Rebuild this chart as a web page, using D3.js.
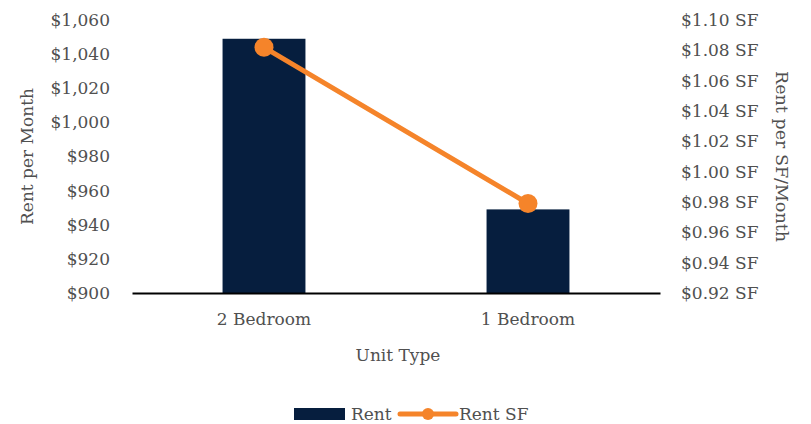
<!DOCTYPE html>
<html>
<head>
<meta charset="utf-8">
<script src="https://cdn.jsdelivr.net/npm/d3@7"></script>
<style>
  body { margin: 0; background: #fff; }
  text { font-family: "DejaVu Serif", serif; fill: #505050; }
</style>
</head>
<body>
<div id="chart"></div>
<script>
const categories = ['2 Bedroom', '1 Bedroom'];
const rentValues = [1049, 949];
const rentSfValues = [1.082, 0.979];
const leftTicks = [900, 920, 940, 960, 980, 1000, 1020, 1040, 1060];
const rightTicks = [0.92, 0.94, 0.96, 0.98, 1.00, 1.02, 1.04, 1.06, 1.08, 1.10];

const width = 811;
const height = 424;
const margin = { top: 20, right: 151, bottom: 131, left: 132 };
const plotW = width - margin.left - margin.right;
const plotH = height - margin.top - margin.bottom;

const navy = '#061e3e';
const orange = '#f5842a';
const textColor = '#505050';
const fontSize = 17;

const svg = d3.select('#chart').append('svg')
  .attr('width', width)
  .attr('height', height);

const g = svg.append('g')
  .attr('transform', `translate(${margin.left}, ${margin.top})`);

const x = d3.scaleBand()
  .domain(categories)
  .range([0, plotW])
  .paddingInner(0.686)
  .paddingOuter(0.343);

const yLeft = d3.scaleLinear().domain([900, 1060]).range([plotH, 0]);
const yRight = d3.scaleLinear().domain([0.92, 1.10]).range([plotH, 0]);

// left axis labels
const leftAxis = g.append('g')
  .call(d3.axisLeft(yLeft).tickValues(leftTicks).tickSize(0).tickPadding(22)
    .tickFormat(d => '$' + d3.format(',')(d)));
leftAxis.select('.domain').remove();
leftAxis.selectAll('text').style('font-size', fontSize + 'px').attr('fill', textColor);

// right axis labels
const rightAxis = g.append('g')
  .attr('transform', `translate(${plotW}, 0)`)
  .call(d3.axisRight(yRight).tickValues(rightTicks).tickSize(0).tickPadding(21)
    .tickFormat(d => '$' + d3.format('.2f')(d) + ' SF'));
rightAxis.select('.domain').remove();
rightAxis.selectAll('text').style('font-size', fontSize + 'px').attr('fill', textColor);

// bars
g.selectAll('.bar')
  .data(categories)
  .enter().append('rect')
  .attr('class', 'bar')
  .attr('x', d => x(d))
  .attr('width', x.bandwidth())
  .attr('y', (d, i) => yLeft(rentValues[i]))
  .attr('height', (d, i) => plotH - yLeft(rentValues[i]))
  .attr('fill', navy);

// x axis
const xAxis = g.append('g')
  .attr('transform', `translate(0, ${plotH})`)
  .call(d3.axisBottom(x).tickSize(0).tickPadding(20));
xAxis.select('.domain').attr('stroke', '#000').attr('stroke-width', 2);
xAxis.selectAll('text').style('font-size', fontSize + 'px').attr('fill', textColor);

// line
const line = d3.line()
  .x((d, i) => x(categories[i]) + x.bandwidth() / 2)
  .y(d => yRight(d));

g.append('path')
  .datum(rentSfValues)
  .attr('d', line)
  .attr('fill', 'none')
  .attr('stroke', orange)
  .attr('stroke-width', 5)
  .attr('stroke-linecap', 'round');

g.selectAll('.dot')
  .data(rentSfValues)
  .enter().append('circle')
  .attr('cx', (d, i) => x(categories[i]) + x.bandwidth() / 2)
  .attr('cy', d => yRight(d))
  .attr('r', 9.5)
  .attr('fill', orange);

// axis titles
svg.append('text')
  .attr('transform', `translate(33, ${margin.top + plotH / 2}) rotate(-90)`)
  .attr('text-anchor', 'middle')
  .style('font-size', fontSize + 'px')
  .text('Rent per Month');

svg.append('text')
  .attr('transform', `translate(776, ${margin.top + plotH / 2}) rotate(90)`)
  .attr('text-anchor', 'middle')
  .style('font-size', '17.5px')
  .text('Rent per SF/Month');

svg.append('text')
  .attr('x', margin.left + plotW / 2 + 2)
  .attr('y', 361)
  .attr('text-anchor', 'middle')
  .style('font-size', fontSize + 'px')
  .text('Unit Type');

// legend
const legend = svg.append('g').attr('transform', 'translate(294, 414)');
legend.append('rect')
  .attr('x', 0).attr('y', -6).attr('width', 51).attr('height', 12)
  .attr('fill', navy);
legend.append('text')
  .attr('x', 57).attr('y', 6)
  .style('font-size', fontSize + 'px')
  .text('Rent');
legend.append('line')
  .attr('x1', 106).attr('x2', 162).attr('y1', 0).attr('y2', 0)
  .attr('stroke', orange).attr('stroke-width', 5).attr('stroke-linecap', 'round');
legend.append('circle')
  .attr('cx', 134).attr('cy', 0).attr('r', 6)
  .attr('fill', orange);
legend.append('text')
  .attr('x', 165).attr('y', 6)
  .style('font-size', fontSize + 'px')
  .text('Rent SF');
</script>
</body>
</html>
